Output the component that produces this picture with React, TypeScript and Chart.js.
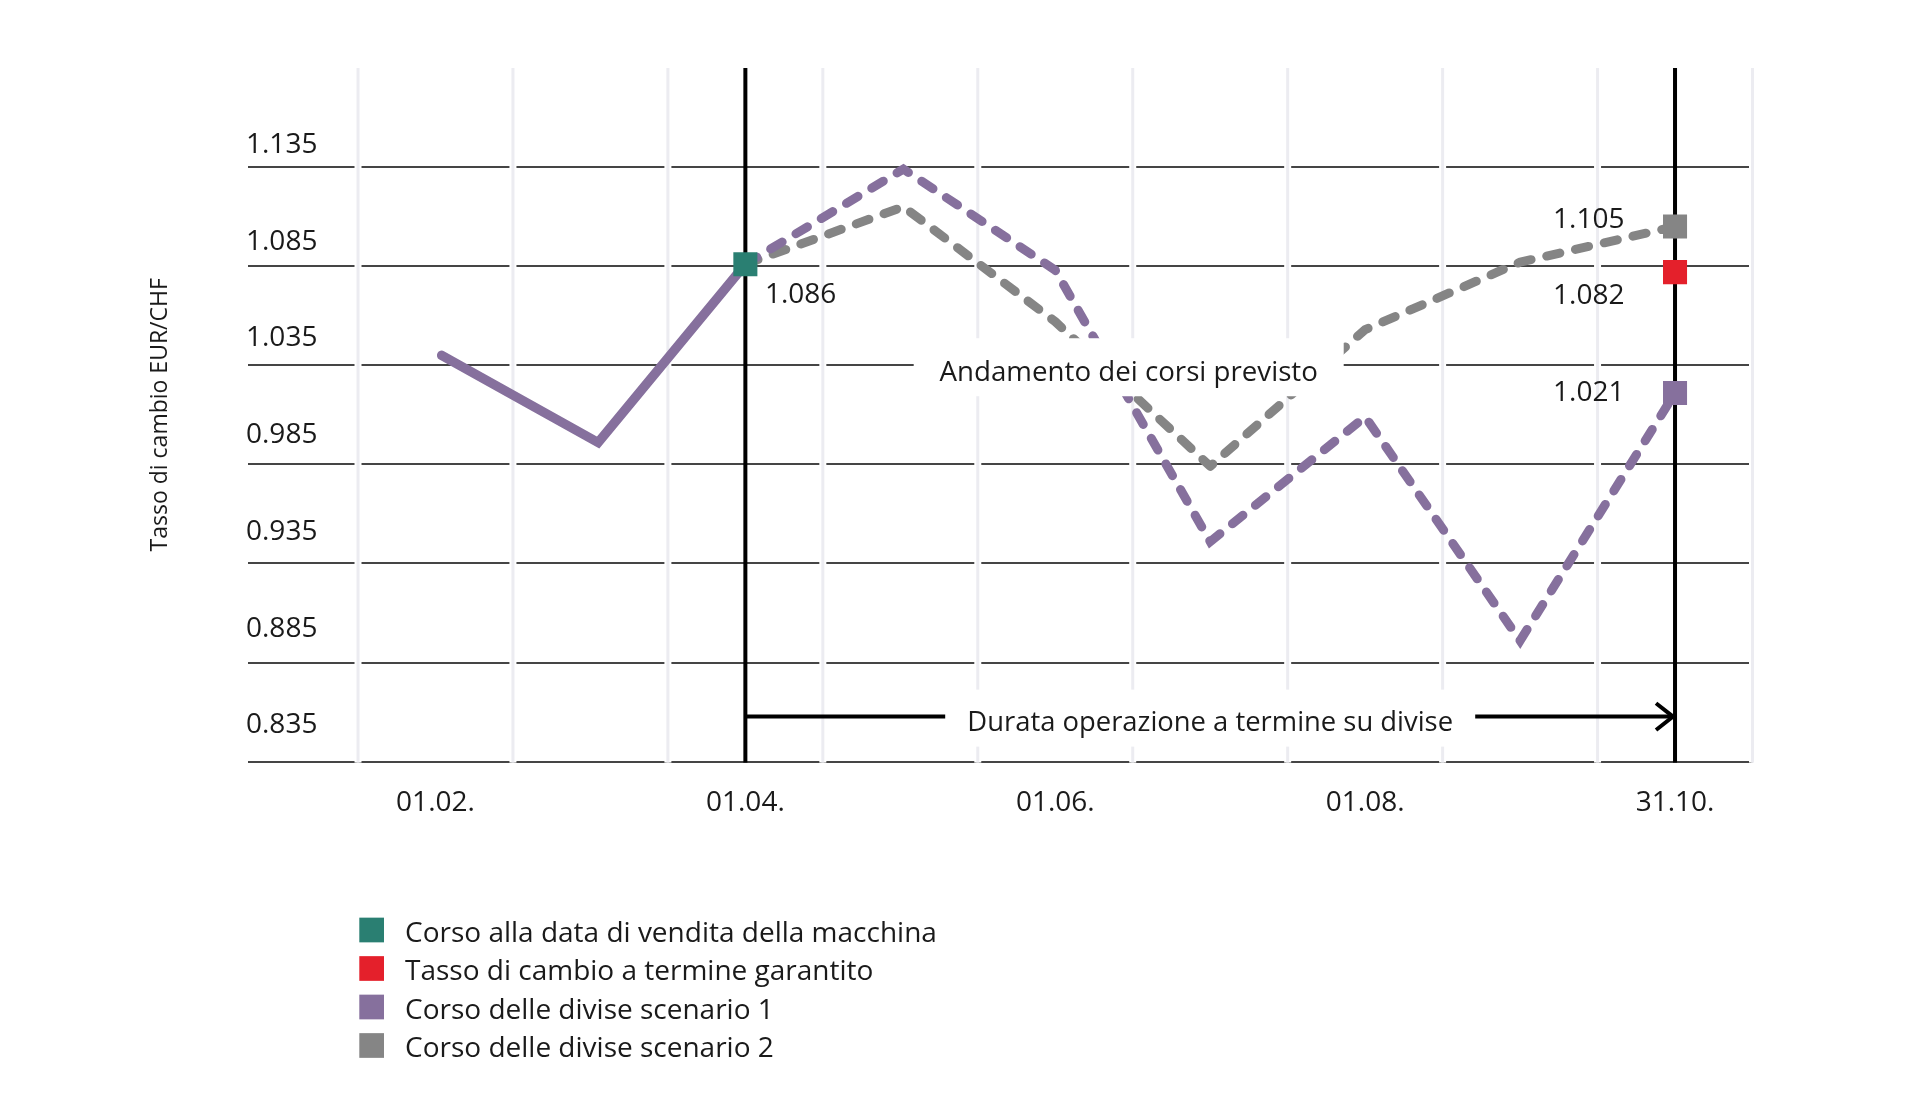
import React, { useEffect, useRef } from "react";
import { Chart, registerables } from "chart.js";

Chart.register(...registerables);

const FONT = '"Open Sans", "Noto Sans", sans-serif';
const TEXT = "#1a1a1a";
const TEAL = "#2a7f72";
const RED = "#e4202b";
const PURPLE = "#86709d";
const GRAY = "#858585";

// ---- data ----
const xTickValues = [2, 4, 6, 8, 10];
const xTickLabels = ["01.02.", "01.04.", "01.06.", "01.08.", "31.10."];
const xGridValues = [1.5, 2.5, 3.5, 4.5, 5.5, 6.5, 7.5, 8.5, 9.5, 10.5];
const yTickValues = [0.835, 0.885, 0.935, 0.985, 1.035, 1.085, 1.135];

const historyX = [2.04, 3.05, 4];
const historyY = [1.04, 0.996, 1.086];

const scenarioX = [4, 5.02, 6, 7, 8, 9, 10];
const scenario1Y = [1.086, 1.134, 1.083, 0.946, 1.009, 0.896, 1.021];
const scenario2Y = [1.086, 1.115, 1.057, 0.984, 1.053, 1.087, 1.105];

const saleX = [4];
const saleRate = [1.086];
const forwardX = [10];
const forwardRate = [1.082];

const periodMarkers = [4, 10];

const legendLabels = [
  "Corso alla data di vendita della macchina",
  "Tasso di cambio a termine garantito",
  "Corso delle divise scenario 1",
  "Corso delle divise scenario 2",
];
const legendColors = [TEAL, RED, PURPLE, GRAY];

const yAxisTitle = "Tasso di cambio EUR/CHF";
const forecastLabel = "Andamento dei corsi previsto";
const durationLabel = "Durata operazione a termine su divise";

const pts = (xs: number[], ys: number[]) => xs.map((x, i) => ({ x, y: ys[i] }));

const TXT_DY = 3.8; // canvas 'middle' baseline correction

const decorPlugin = {
  id: "decor",
  beforeDatasetsDraw(chart: any) {
    const { ctx, chartArea: a, scales } = chart;
    const x = scales.x;
    ctx.save();
    for (const v of xGridValues) {
      const px = x.getPixelForValue(v);
      ctx.fillStyle = "#ffffff";
      ctx.fillRect(px - 3.5, a.top, 7, a.bottom - a.top + 1);
      ctx.fillStyle = "#ececf1";
      ctx.fillRect(px - 1.5, a.top, 3, a.bottom - a.top + 1);
    }
    ctx.fillStyle = "#000000";
    for (const v of periodMarkers) {
      const px = x.getPixelForValue(v);
      ctx.fillRect(px - 2, a.top, 4, a.bottom - a.top + 1);
    }
    ctx.restore();
  },
  afterDatasetsDraw(chart: any) {
    const { ctx, scales } = chart;
    const x = scales.x;
    const y = scales.y;
    ctx.save();
    ctx.fillStyle = TEXT;
    ctx.textBaseline = "middle";

    // forecast label box
    const fx = x.getPixelForValue(6.474);
    const fy = y.getPixelForValue(1.034);
    ctx.fillStyle = "#ffffff";
    ctx.fillRect(fx - 215, fy - 29, 430, 58);
    ctx.fillStyle = TEXT;
    ctx.textAlign = "center";
    ctx.font = `27.7px ${FONT}`;
    ctx.fillText(forecastLabel, fx, fy + 1.6 + TXT_DY);

    // duration arrow
    const x0 = x.getPixelForValue(periodMarkers[0]);
    const x1 = x.getPixelForValue(periodMarkers[1]) - 2;
    const ay = y.getPixelForValue(0.8577);
    ctx.strokeStyle = "#000000";
    ctx.lineWidth = 4;
    ctx.beginPath();
    ctx.moveTo(x0, ay);
    ctx.lineTo(x1, ay);
    ctx.stroke();
    ctx.beginPath();
    ctx.moveTo(x1 - 17, ay - 13.4);
    ctx.lineTo(x1, ay);
    ctx.lineTo(x1 - 17, ay + 13.4);
    ctx.lineJoin = "miter";
    ctx.stroke();
    const dx = x.getPixelForValue(7);
    ctx.fillStyle = "#ffffff";
    ctx.fillRect(dx - 265, ay - 27, 530, 57);
    ctx.fillStyle = TEXT;
    ctx.font = `27.4px ${FONT}`;
    ctx.fillText(durationLabel, dx, ay + 2.4 + TXT_DY);

    // value labels
    ctx.font = `28px ${FONT}`;
    ctx.textAlign = "left";
    const sx = x.getPixelForValue(saleX[0]);
    const sy = y.getPixelForValue(saleRate[0]);
    ctx.fillText(saleRate[0].toFixed(3), sx + 19.6, sy + 26.6 + TXT_DY);
    const ex = x.getPixelForValue(forwardX[0]) - 122;
    const last = scenarioX.length - 1;
    ctx.fillText(scenario2Y[last].toFixed(3), ex, y.getPixelForValue(scenario2Y[last]) - 10.7 + TXT_DY);
    ctx.fillText(forwardRate[0].toFixed(3), ex, y.getPixelForValue(forwardRate[0]) + 20.1 + TXT_DY);
    ctx.fillText(scenario1Y[last].toFixed(3), ex, y.getPixelForValue(scenario1Y[last]) - 3.9 + TXT_DY);
    ctx.restore();
  },
  afterDraw(chart: any) {
    const { ctx, chartArea: a } = chart;
    ctx.save();
    // legend
    ctx.font = `28px ${FONT}`;
    ctx.textBaseline = "middle";
    ctx.textAlign = "left";
    legendLabels.forEach((label, i) => {
      const cy = 930 + i * 38.5;
      ctx.fillStyle = legendColors[i];
      ctx.fillRect(359.3, cy - 12.35, 24.7, 24.7);
      ctx.fillStyle = TEXT;
      ctx.fillText(label, 405, cy + 0.1 + TXT_DY);
    });
    // y axis title
    ctx.translate(167, (a.top + a.bottom) / 2);
    ctx.rotate(-Math.PI / 2);
    ctx.font = `23px ${FONT}`;
    ctx.textAlign = "center";
    ctx.textBaseline = "alphabetic";
    ctx.fillStyle = TEXT;
    ctx.fillText(yAxisTitle, 0, 0);
    ctx.restore();
  },
};

export default function App() {
  const ref = useRef<HTMLCanvasElement>(null);

  useEffect(() => {
    let chart: Chart | null = null;
    let cancelled = false;
    const build = () => {
      if (cancelled || !ref.current) return;
      const last = scenarioX.length - 1;
      chart = new Chart(ref.current, {
        type: "line",
        data: {
          datasets: [
            {
              label: legendLabels[0],
              data: pts(saleX, saleRate),
              showLine: false,
              pointStyle: "rect",
              pointRadius: 17,
              pointHoverRadius: 17,
              pointBackgroundColor: TEAL,
              backgroundColor: TEAL,
              borderColor: TEAL,
              pointBorderWidth: 0,
              order: 0,
            },
            {
              label: legendLabels[1],
              data: pts(forwardX, forwardRate),
              showLine: false,
              pointStyle: "rect",
              pointRadius: 17,
              pointHoverRadius: 17,
              pointBackgroundColor: RED,
              backgroundColor: RED,
              borderColor: RED,
              pointBorderWidth: 0,
              order: 0,
            },
            {
              label: legendLabels[2],
              data: pts(scenarioX, scenario1Y),
              borderColor: PURPLE,
              backgroundColor: PURPLE,
              borderWidth: 9,
              borderDash: [13.5, 16],
              borderCapStyle: "round",
              borderJoinStyle: "miter",
              tension: 0,
              fill: false,
              pointStyle: "rect",
              pointRadius: (c: any) => (c.dataIndex === last ? 17 : 0),
              pointHoverRadius: (c: any) => (c.dataIndex === last ? 17 : 0),
              pointBackgroundColor: PURPLE,
              pointBorderWidth: 0,
              order: 1,
            } as any,
            {
              label: legendLabels[3],
              data: pts(scenarioX, scenario2Y),
              borderColor: GRAY,
              backgroundColor: GRAY,
              borderWidth: 9,
              borderDash: [13.5, 16],
              borderCapStyle: "round",
              borderJoinStyle: "round",
              tension: 0,
              fill: false,
              pointStyle: "rect",
              pointRadius: (c: any) => (c.dataIndex === last ? 17 : 0),
              pointHoverRadius: (c: any) => (c.dataIndex === last ? 17 : 0),
              pointBackgroundColor: GRAY,
              pointBorderWidth: 0,
              order: 2,
            } as any,
            {
              label: "Storico",
              data: pts(historyX, historyY),
              borderColor: PURPLE,
              backgroundColor: PURPLE,
              borderWidth: 9.5,
              borderJoinStyle: "miter",
              borderCapStyle: "round",
              tension: 0,
              fill: false,
              pointRadius: 0,
              pointHoverRadius: 0,
              order: 3,
            },
          ],
        },
        options: {
          responsive: false,
          animation: false,
          devicePixelRatio: 1,
          events: [],
          layout: { padding: { left: 248, right: 167.5, top: 68, bottom: 258.4 } },
          plugins: {
            legend: { display: false },
            tooltip: { enabled: false },
            title: { display: false },
          },
          scales: {
            x: {
              type: "linear",
              min: 0.79,
              max: 10.5,
              afterBuildTicks: (s: any) => {
                s.ticks = xTickValues.map((v) => ({ value: v }));
              },
              afterFit: (s: any) => {
                s.height = 100;
              },
              ticks: {
                autoSkip: false,
                maxRotation: 0,
                minRotation: 0,
                padding: 21 + TXT_DY,
                color: TEXT,
                font: { family: FONT, size: 28 },
                callback: (_v: any, i: number) => xTickLabels[i],
              },
              grid: { display: false, drawTicks: false },
              border: { display: false },
            },
            y: {
              type: "linear",
              position: "left",
              min: 0.835,
              max: 1.185,
              afterBuildTicks: (s: any) => {
                s.ticks = yTickValues.map((v) => ({ value: v }));
              },
              afterFit: (s: any) => {
                s.width = 0;
              },
              ticks: { display: false },
              grid: { color: "#454545", lineWidth: 2, drawTicks: false },
              border: { display: false },
            },
            yLabels: {
              type: "linear",
              position: "left",
              min: 0.81629,
              max: 1.17474,
              afterBuildTicks: (s: any) => {
                s.ticks = yTickValues.map((v) => ({ value: v }));
              },
              afterFit: (s: any) => {
                s.width = 0;
              },
              ticks: {
                mirror: true,
                padding: -2,
                color: TEXT,
                font: { family: FONT, size: 28 },
                callback: (v: any) => Number(v).toFixed(3),
              },
              grid: { display: false, drawTicks: false },
              border: { display: false },
            },
          },
        } as any,
        plugins: [decorPlugin],
      });
    };
    const fontsReady = (document as any).fonts
      ? Promise.all([
          (document as any).fonts.load(`28px "Open Sans"`),
          (document as any).fonts.load(`23px "Open Sans"`),
        ]).catch(() => null)
      : Promise.resolve(null);
    fontsReady.then(build);
    return () => {
      cancelled = true;
      if (chart) chart.destroy();
    };
  }, []);

  return (
    <div
      style={{
        position: "absolute",
        left: 0,
        top: 0,
        width: 1920,
        height: 1120,
        background: "#ffffff",
      }}
    >
      <canvas
        ref={ref}
        width={1920}
        height={1120}
        style={{ width: 1920, height: 1120, display: "block" }}
      />
    </div>
  );
}
